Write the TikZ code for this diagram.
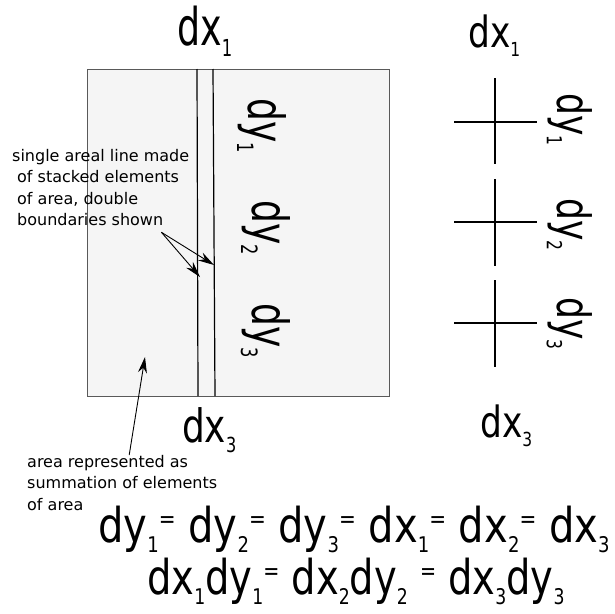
\documentclass[tikz,border=0pt]{standalone}
\usepackage{fontspec}
\setmainfont{DejaVu Sans}
\usetikzlibrary{arrows.meta}

\newcommand\lblsize[1]{\fontsize{#1}{#1}\selectfont}
\newcommand\ix[1]{\raisebox{-0.22em}{\scalebox{0.45}{#1}}}
\newcommand\eqs{\raisebox{0.3em}{\scalebox{0.5}{=}}}

\tikzset{
  lbl/.style={inner sep=0pt,anchor=base west},
  vlbl/.style={inner sep=0pt,anchor=base west,rotate=-90},
  note/.style={inner sep=0pt,anchor=north west,align=left,font=\fontsize{16}{21.5}\selectfont},
  elem/.style={line width=1.2pt},
  tick/.style={line width=1.4pt},
  pointer/.style={-{Stealth[length=16pt,width=9pt]},line width=0.9pt},
}

\begin{document}
\begin{tikzpicture}[x=1pt,y=-1pt]
  \useasboundingbox (0,0) rectangle (615,613);
  % area with one areal line in it
  \node[draw=black!65,fill=black!4,line width=0.8pt,inner sep=0pt,
        minimum width=302pt,minimum height=327pt,anchor=north west] (area) at (87,69) {};
  \coordinate (la) at (197,69);
  \coordinate (lb) at (198,396);
  \coordinate (ra) at (213,69);
  \coordinate (rb) at (215,396);
  \draw[elem] (la) -- (lb);
  \draw[elem] (ra) -- (rb);
  \node[lbl] (dxa) at (177,45) {\lblsize{52}\scalebox{0.7}[1]{dx\ix1}};
  \node[lbl] (dxc) at (182,442) {\lblsize{46}\scalebox{0.78}[1]{dx\ix3}};
  \node[vlbl] (dya) at (248,98) {\lblsize{50}\scalebox{0.72}[1]{dy\ix1}};
  \node[vlbl] (dyb) at (252,200) {\lblsize{50}\scalebox{0.72}[1]{dy\ix2}};
  \node[vlbl] (dyc) at (252,303) {\lblsize{50}\scalebox{0.72}[1]{dy\ix3}};

  % separate elements
  \foreach \y/\t/\b in {122/78/164,222/179/266,323/280/367}{
    \coordinate (t\y) at (495,\t);
    \coordinate (b\y) at (495,\b);
    \coordinate (l\y) at (454,\y);
    \coordinate (r\y) at (537,\y);
    \draw[tick] (t\y) -- (b\y);
    \draw[tick] (l\y) -- (r\y);
  }
  \node[lbl] (dxb) at (468,47) {\lblsize{43}\scalebox{0.8}[1]{dx\ix1}};
  \node[lbl] (dxd) at (480,437) {\lblsize{43}\scalebox{0.8}[1]{dx\ix3}};
  \node[vlbl] (dyd) at (557,93) {\lblsize{46}\scalebox{0.75}[1]{dy\ix1}};
  \node[vlbl] (dye) at (557,198) {\lblsize{46}\scalebox{0.75}[1]{dy\ix2}};
  \node[vlbl] (dyf) at (557,297) {\lblsize{46}\scalebox{0.75}[1]{dy\ix3}};

  % notes
  \node[note] (lnote) at (12,149) {single areal line made\\
    \hspace*{5pt}of stacked elements\\
    \hspace*{5pt}of area, double\\
    \hspace*{5pt}boundaries shown};
  \coordinate (ltip) at (214,265);
  \coordinate (rtip) at (200,277);
  \draw[pointer] ([xshift=-28pt,yshift=-6pt]lnote.south east) -- (ltip);
  \draw[pointer] ([xshift=-28pt,yshift=-6pt]lnote.south east) -- (rtip);
  \node[note] (anote) at (27,455) {area represented as\\summation of elements\\of area};
  \coordinate (atip) at (145,357);
  \draw[pointer] ([xshift=7pt]anote.north) -- (atip);

  % equalities
  \node[lbl] (eqa) at (98,542) {\lblsize{48}\scalebox{0.835}[1]{dy\ix1\eqs{} dy\ix2\eqs{} dy\ix3\eqs{} dx\ix1\eqs{} dx\ix2\eqs{} dx\ix3}};
  \node[lbl] (eqb) at (147,594) {\lblsize{48}\scalebox{0.8}[1]{dx\ix1dy\ix1\eqs{} dx\ix2dy\ix2{} \eqs{} dx\ix3dy\ix3}};
\end{tikzpicture}
\end{document}
